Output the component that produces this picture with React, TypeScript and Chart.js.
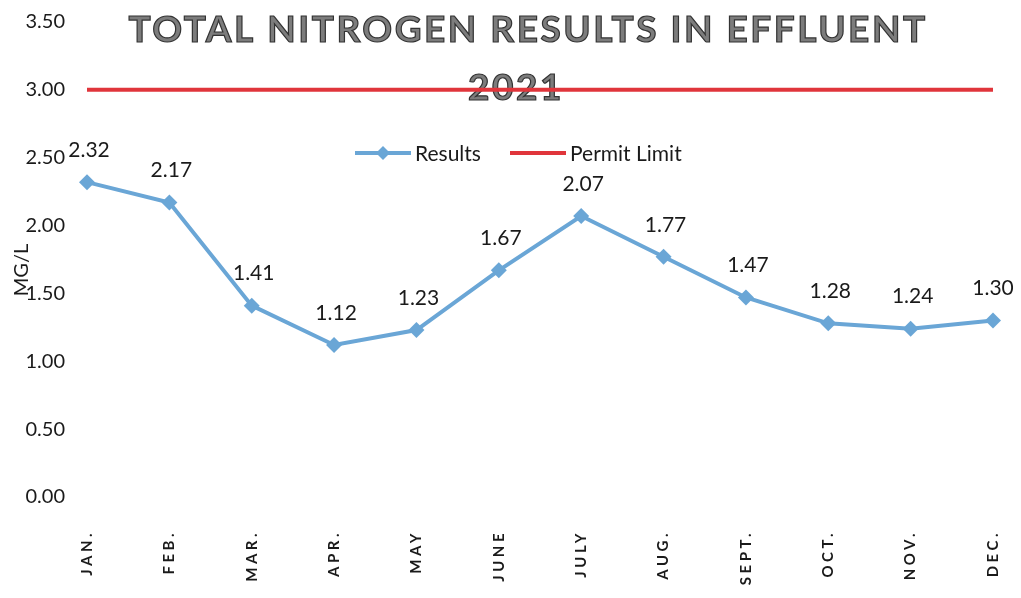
import React, { useEffect, useRef } from "react";
import { Chart, registerables } from "chart.js";

Chart.register(...registerables);

const months = ["JAN.", "FEB.", "MAR.", "APR.", "MAY", "JUNE", "JULY", "AUG.", "SEPT.", "OCT.", "NOV.", "DEC."];
const results = [2.32, 2.17, 1.41, 1.12, 1.23, 1.67, 2.07, 1.77, 1.47, 1.28, 1.24, 1.3];
const permitLimit = [3, 3, 3, 3, 3, 3, 3, 3, 3, 3, 3, 3];
const titleLines = ["TOTAL NITROGEN RESULTS IN EFFLUENT", "2021"];
const yAxisTitle = "MG/L";

const BLUE = "#6aa6d6";
const RED = "#e0353b";
const FONT = "Lato, 'Open Sans', sans-serif";

const overlayPlugin = {
  id: "overlay",
  beforeDatasetsDraw(chart: any) {
    const ctx = chart.ctx as CanvasRenderingContext2D;
    ctx.save();
    // Title
    ctx.textAlign = "center";
    ctx.textBaseline = "middle";
    ctx.font = `bold 37px ${FONT}`;
    (ctx as any).letterSpacing = "2.5px";
    ctx.fillStyle = "#7c7c7c";
    ctx.strokeStyle = "#333333";
    ctx.lineWidth = 1.2;
    ctx.fillText(titleLines[0], 520, 22);
    ctx.strokeText(titleLines[0], 520, 22);
    ctx.fillText(titleLines[1], 508, 80);
    ctx.strokeText(titleLines[1], 508, 80);
    (ctx as any).letterSpacing = "0px";

    // Legend
    const ly = 145;
    ctx.lineWidth = 4;
    ctx.strokeStyle = BLUE;
    ctx.beginPath();
    ctx.moveTo(347, ly);
    ctx.lineTo(403, ly);
    ctx.stroke();
    ctx.fillStyle = BLUE;
    ctx.beginPath();
    ctx.moveTo(375, ly - 7);
    ctx.lineTo(382, ly);
    ctx.lineTo(375, ly + 7);
    ctx.lineTo(368, ly);
    ctx.closePath();
    ctx.fill();
    ctx.strokeStyle = RED;
    ctx.beginPath();
    ctx.moveTo(502, ly);
    ctx.lineTo(558, ly);
    ctx.stroke();
    ctx.fillStyle = "#1a1a1a";
    ctx.font = `21px ${FONT}`;
    ctx.textAlign = "left";
    ctx.fillText(chart.data.datasets[0].label, 407, ly + 1);
    ctx.fillText(chart.data.datasets[1].label, 562, ly + 1);

    // Y axis title
    ctx.save();
    ctx.translate(14, 262);
    ctx.rotate(-Math.PI / 2);
    ctx.textAlign = "center";
    ctx.font = `20px ${FONT}`;
    ctx.fillText(yAxisTitle, 0, 0);
    ctx.restore();

    // X labels
    const xs = chart.scales.x;
    ctx.font = `bold 15px ${FONT}`;
    (ctx as any).letterSpacing = "3.5px";
    ctx.textAlign = "right";
    ctx.textBaseline = "middle";
    months.forEach((m, i) => {
      const x = xs.getPixelForValue(i);
      ctx.save();
      ctx.translate(x, 522);
      ctx.rotate(-Math.PI / 2);
      ctx.fillText(m, 0, 0);
      ctx.restore();
    });
    (ctx as any).letterSpacing = "0px";
    ctx.restore();
  },
  afterDatasetsDraw(chart: any) {
    const ctx = chart.ctx as CanvasRenderingContext2D;
    const meta = chart.getDatasetMeta(0);
    ctx.save();
    ctx.font = `21px ${FONT}`;
    ctx.fillStyle = "#1a1a1a";
    ctx.textAlign = "center";
    ctx.textBaseline = "middle";
    meta.data.forEach((pt: any, i: number) => {
      ctx.fillText(results[i].toFixed(2), Math.min(pt.x + 2, 985), pt.y - 32);
    });
    ctx.restore();
  },
};

export default function App() {
  const ref = useRef<HTMLCanvasElement>(null);
  useEffect(() => {
    if (!ref.current) return;
    const chart = new Chart(ref.current, {
      type: "line",
      data: {
        labels: months,
        datasets: [
          {
            label: "Results",
            data: results,
            borderColor: BLUE,
            backgroundColor: BLUE,
            borderWidth: 4,
            pointStyle: "rectRot",
            pointRadius: 8,
            pointBorderWidth: 0,
            tension: 0,
            order: 1,
          },
          {
            label: "Permit Limit",
            data: permitLimit,
            borderColor: RED,
            backgroundColor: RED,
            borderWidth: 4,
            pointRadius: 0,
            tension: 0,
            order: 0,
          },
        ],
      },
      options: {
        animation: false,
        responsive: false,
        layout: { padding: { top: 14, right: 20, left: 0, bottom: 0 } },
        plugins: { legend: { display: false }, tooltip: { enabled: false } },
        scales: {
          x: {
            offset: false,
            grid: { display: false, drawTicks: false },
            border: { display: false },
            ticks: { display: false },
            afterFit: (s: any) => {
              s.height = 93;
              s.paddingLeft = 0;
              s.paddingRight = 0;
            },
          },
          y: {
            min: 0,
            max: 3.5,
            grid: { display: false, drawTicks: false },
            border: { display: false },
            ticks: {
              stepSize: 0.5,
              padding: 22,
              color: "#1a1a1a",
              font: { family: FONT, size: 20 },
              callback: (v: any) => Number(v).toFixed(2),
            },
            afterFit: (s: any) => {
              s.width = 79;
              s.paddingTop = 0;
              s.paddingBottom = 0;
            },
          },
        },
      },
      plugins: [overlayPlugin],
    });
    return () => chart.destroy();
  }, []);
  return (
    <div style={{ width: 1005, height: 582 }}>
      <canvas ref={ref} width={1005} height={582} style={{ width: 1005, height: 582 }} />
    </div>
  );
}
